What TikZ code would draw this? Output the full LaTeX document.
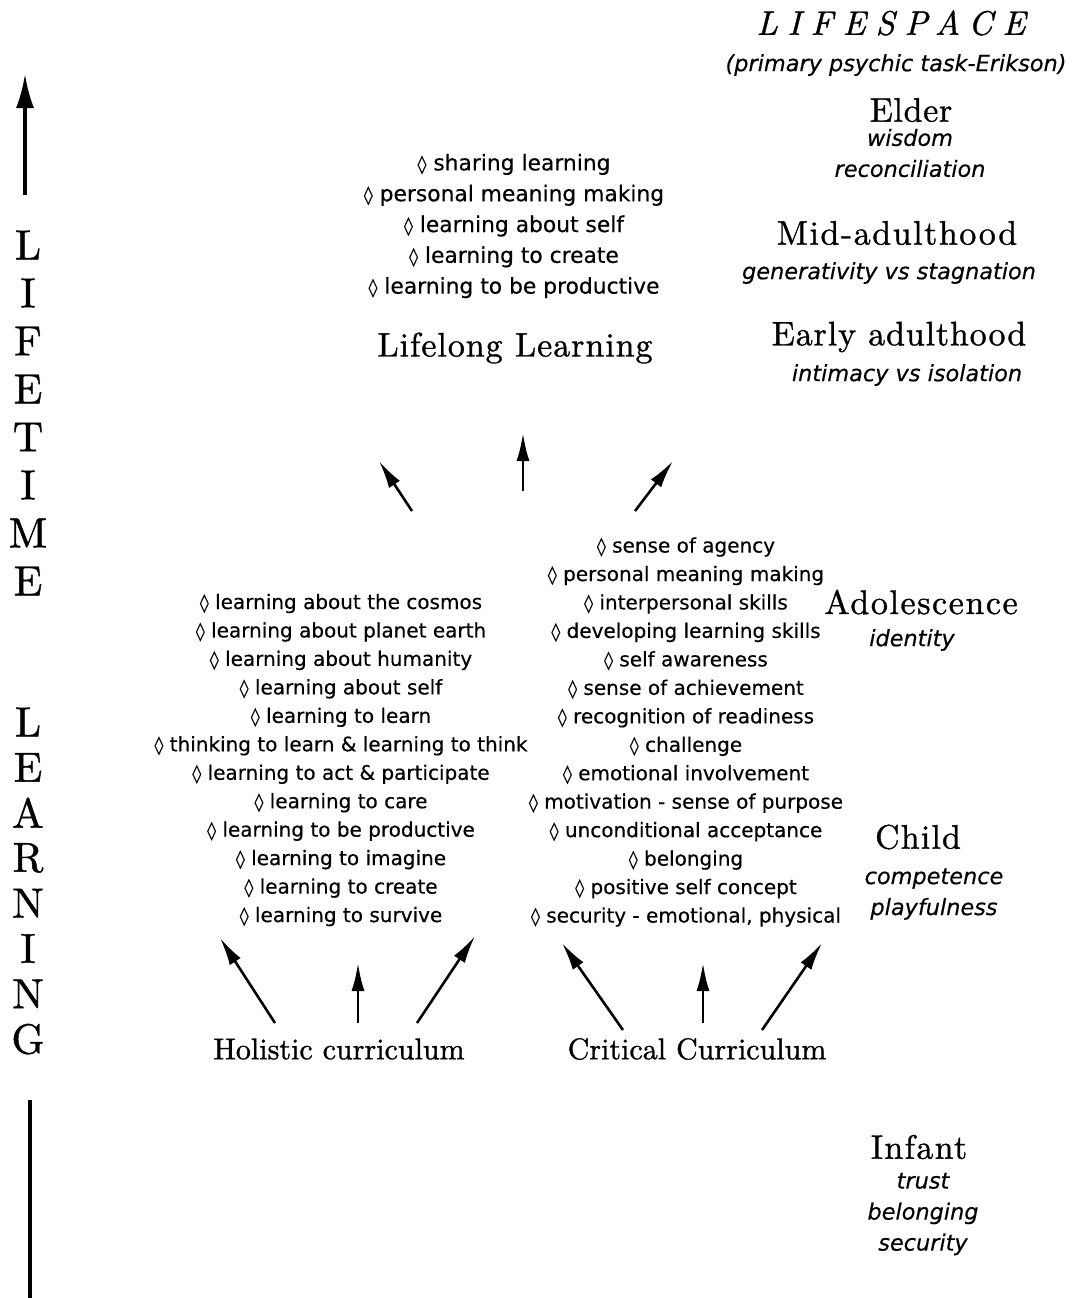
\documentclass[tikz,border=0pt]{standalone}
\usepackage{fontspec}
\setmainfont{lmroman10}[Extension=.otf,UprightFont=*-regular,ItalicFont=*-italic,FakeBold=1]
\newfontfamily\listfont{DejaVu Sans}[FakeBold=0.4]
\newcommand{\lz}{{\fontsize{9}{9}\selectfont\raisebox{0.1pt}{◊}}}
\usetikzlibrary{arrows.meta}
\tikzset{
  stage/.style={font=\fontsize{17}{20}\selectfont\addfontfeature{LetterSpace=#1},inner sep=0pt},
  stage/.default=3,
  task/.style={font=\listfont\itshape\fontsize{11.2}{15.5}\selectfont,align=center,inner sep=0pt},
  items/.style={font=\listfont\fontsize{10}{14.23}\selectfont,align=center,inner sep=0pt},
  curric/.style={font=\fontsize{15}{18}\selectfont,inner sep=0pt},
  axisch/.style={font=\fontsize{21}{21}\selectfont,inner sep=0pt},
  growarrow/.style={-{Latex[length=14pt,width=6.5pt]},line width=1.3pt},
}
\begin{document}
\begin{tikzpicture}[x=0.5pt,y=-0.5pt]
\useasboundingbox (0,0) rectangle (1078,1298);
% lifetime learning axis
\coordinate (axtop) at (25,74);
\coordinate (axbot) at (25,195);
\draw[-{Latex[length=17pt,width=9pt]},line width=1.7pt] (axbot)--(axtop);
\foreach \ch [count=\i from 0] in {L,I,F,E,T,I,M,E}
  \node[axisch] (life\i) at (28,245+48*\i) {\ch};
\foreach \ch [count=\i from 0] in {L,E,A,R,N,I,N,G}
  \node[axisch] (learn\i) at (28,722+45.3*\i) {\ch};
\coordinate (axmid) at (30,1100);
\coordinate (axend) at (30,1298);
\draw[line width=1.7pt] (axmid)--(axend);
% life stages
\node[font=\itshape\fontsize{17}{20}\selectfont\addfontfeature{LetterSpace=29},inner sep=0pt] (lifespace) at (891,23) {LIFESPACE};
\node[task] (erikson) at (896,65) {(primary psychic task-Erikson)};
\node[stage=2] (elder) at (911,110) {Elder};
\node[task] (elderT) at (910,153) {wisdom\\reconciliation};
\node[stage=4.5] (mid) at (897,233) {Mid-adulthood};
\node[task] (midT) at (889,273) {generativity vs stagnation};
\node[stage=2.5] (early) at (899,337) {Early adulthood};
\node[task] (earlyT) at (907,375) {intimacy vs isolation};
\node[stage=4.6] (adol) at (921,602) {Adolescence};
\node[task] (adolT) at (912,640) {identity};
\node[stage=3.4] (child) at (918,837) {Child};
\node[task] (childT) at (934,894) {competence\\playfulness};
\node[stage=3.9] (infant) at (919,1147) {Infant};
\node[task] (infantT) at (923,1214) {trust\\belonging\\security};
% lifelong learning
\node[items,font=\listfont\fontsize{10.9}{15.4}\selectfont] (lifelongL) at (514,226)
  {\lz{} sharing learning\\\lz{} personal meaning making\\\lz{} learning about self\\\lz{} learning to create\\\lz{} learning to be productive};
\node[stage=2.8] (lifelong) at (515,348) {Lifelong Learning};
% curricula
\node[items] (holL) at (341,760)
  {\lz{} learning about the cosmos\\\lz{} learning about planet earth\\\lz{} learning about humanity\\\lz{} learning about self\\\lz{} learning to learn\\\lz{} thinking to learn \& learning to think\\\lz{} learning to act \& participate\\\lz{} learning to care\\\lz{} learning to be productive\\\lz{} learning to imagine\\\lz{} learning to create\\\lz{} learning to survive};
\node[items] (critL) at (686,732)
  {\lz{} sense of agency\\\lz{} personal meaning making\\\lz{} interpersonal skills\\\lz{} developing learning skills\\\lz{} self awareness\\\lz{} sense of achievement\\\lz{} recognition of readiness\\\lz{} challenge\\\lz{} emotional involvement\\\lz{} motivation - sense of purpose\\\lz{} unconditional acceptance\\\lz{} belonging\\\lz{} positive self concept\\\lz{} security - emotional, physical};
\node[curric] (holistic) at (339,1049) {Holistic curriculum};
\node[curric] (critical) at (697,1049) {Critical Curriculum};
% arrows
\coordinate (u1) at (412,511); \coordinate (u1h) at (379,461);
\coordinate (u2) at (523,491); \coordinate (u2h) at (523,433);
\coordinate (u3) at (635,511); \coordinate (u3h) at (673,461);
\coordinate (h1) at (275,1023); \coordinate (h1h) at (220,938);
\coordinate (h2) at (358,1023); \coordinate (h2h) at (358,963);
\coordinate (h3) at (417,1023); \coordinate (h3h) at (475,936);
\coordinate (c1) at (623,1030); \coordinate (c1h) at (562,943);
\coordinate (c2) at (703,1023); \coordinate (c2h) at (703,963);
\coordinate (c3) at (762,1030); \coordinate (c3h) at (822,943);
\foreach \a in {u1,u2,u3,h1,h2,h3,c1,c2,c3}
  \draw[growarrow] (\a)--(\a h);
\end{tikzpicture}
\end{document}
